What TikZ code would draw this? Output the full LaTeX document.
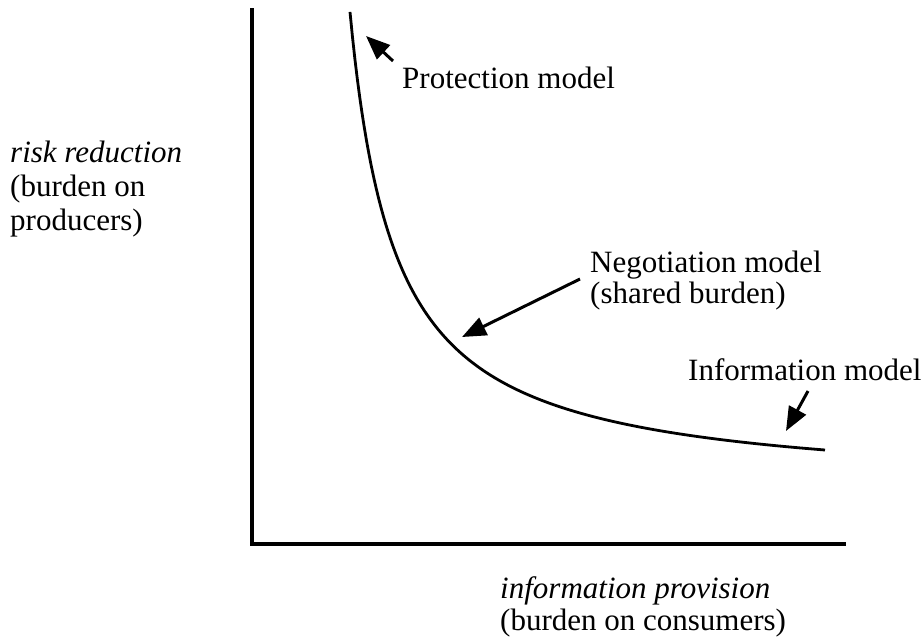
\documentclass[tikz,border=0pt]{standalone}
\usepackage{fontspec}
\setmainfont{Liberation Serif}
\usetikzlibrary{arrows.meta}
\begin{document}
\begin{tikzpicture}[x=1pt,y=-1pt,
  lbl/.style={anchor=base west,inner sep=0pt,font=\fontsize{31}{34}\selectfont},
  ilbl/.style={lbl,font=\fontsize{31}{34}\selectfont\itshape},
  axisline/.style={line width=3.2pt,line cap=rect},
  curveline/.style={line width=2.8pt},
  pointer/.style={line width=3pt,-{Triangle[length=24pt,width=19pt]}}]
\useasboundingbox (0,0) rectangle (924,641);
% axes
\coordinate (top) at (252,10);
\coordinate (origin) at (252,544);
\coordinate (right) at (844,544);
\draw[axisline] (top) -- (origin) -- (right);
% curve
\draw[curveline] plot[domain=350:825,samples=200] (\x,{491.5-215.8/((\x-305)/100)});
% labels
\node[lbl] (prot) at (402,88) {Protection model};
\node[lbl] (neg1) at (590,272) {Negotiation model};
\node[lbl] (neg2) at (590,303) {(shared burden)};
\node[lbl] (info) at (688,380) {Information model};
\node[ilbl] (yl1) at (10,162) {risk reduction};
\node[lbl] (yl2) at (10,196) {(burden on};
\node[lbl] (yl3) at (10,230) {producers)};
\node[ilbl] (xl1) at (500,598) {information provision};
\node[lbl] (xl2) at (500,630) {(burden on consumers)};
% pointers
\coordinate (ptail) at (393,61);
\coordinate (ptip) at (366,36);
\coordinate (ntail) at (580,279);
\coordinate (ntip) at (462,337);
\coordinate (itail) at (808,391);
\coordinate (itip) at (786,431);
\draw[pointer] (ptail) -- (ptip);
\draw[pointer] (ntail) -- (ntip);
\draw[pointer] (itail) -- (itip);
\end{tikzpicture}
\end{document}
